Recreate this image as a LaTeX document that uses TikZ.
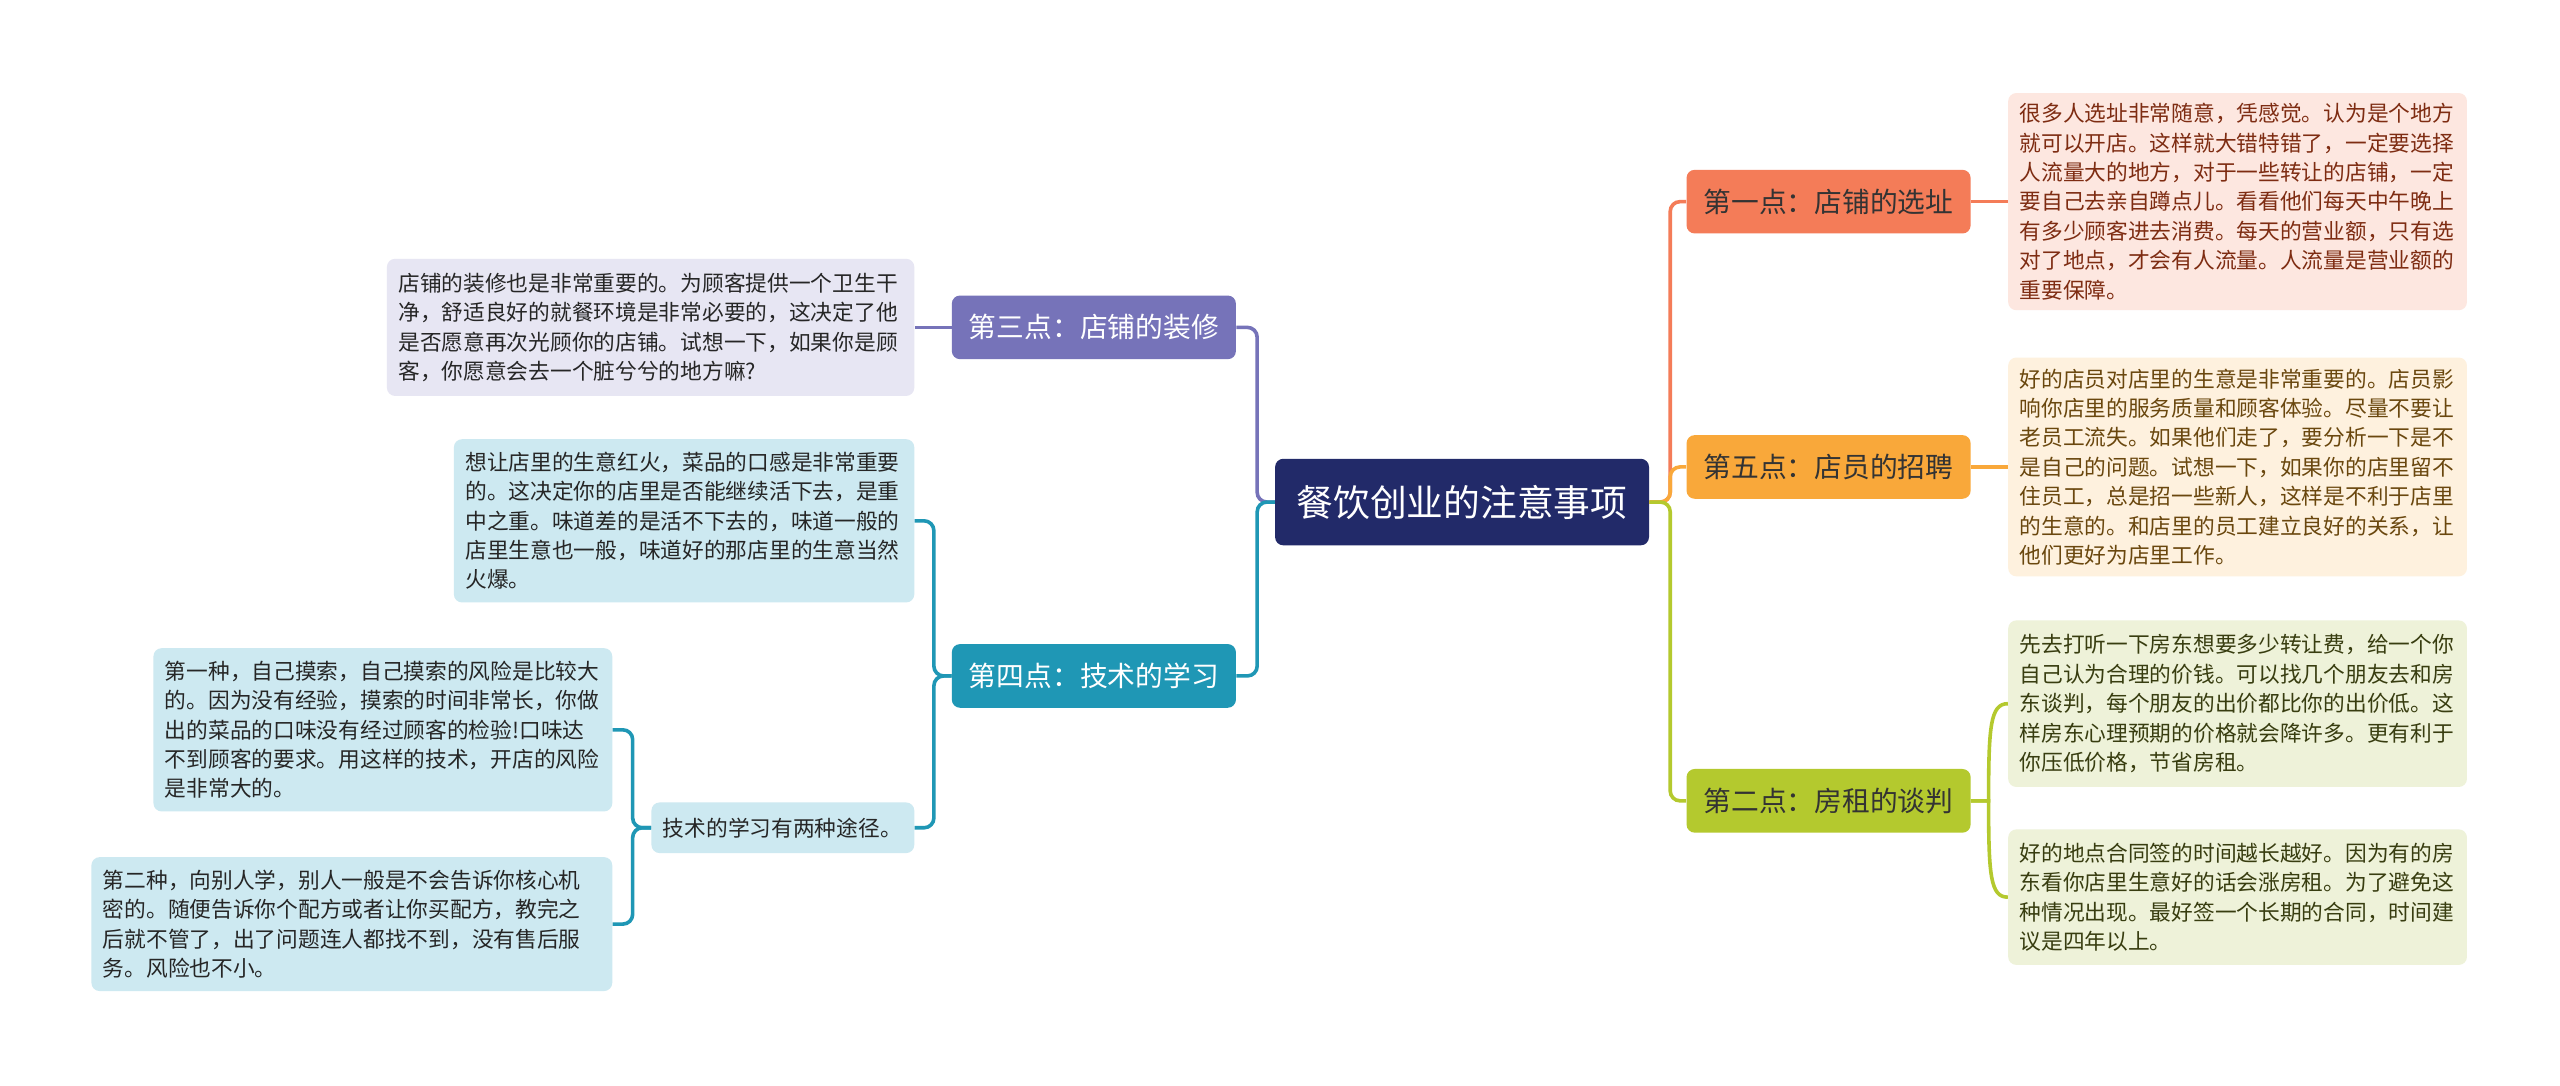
\documentclass[tikz,border=0pt]{standalone}
\usepackage{fontspec}
\setmainfont{Noto Sans CJK SC}
\definecolor{cnavy}{HTML}{222A69}
\definecolor{cpurple}{HTML}{7673B9}
\definecolor{cpurpleL}{HTML}{E7E6F3}
\definecolor{cteal}{HTML}{1F97B5}
\definecolor{ctealL}{HTML}{CDE9F1}
\definecolor{ccoral}{HTML}{F47C58}
\definecolor{ccoralL}{HTML}{FDE7E0}
\definecolor{ccoralT}{HTML}{7E2C12}
\definecolor{corange}{HTML}{F9A83A}
\definecolor{corangeL}{HTML}{FEF1DE}
\definecolor{corangeT}{HTML}{6A470E}
\definecolor{cgreen}{HTML}{B4C92E}
\definecolor{cgreenL}{HTML}{EEF2D9}
\definecolor{cgreenT}{HTML}{383D10}
\tikzset{
  box/.style={rounded corners=5pt, inner sep=0pt, anchor=center},
  rootbox/.style={box, fill=cnavy, text=white, minimum width=229pt, minimum height=53pt, font=\fontsize{22.5}{26}\selectfont},
  branchbox/.style={box, minimum width=174pt, minimum height=39pt, font=\fontsize{17}{20}\selectfont},
  leafbox/.style={box, align=left, font=\fontsize{13.3}{18}\selectfont},
  conn/.style={line width=2.2pt, rounded corners=6pt},
}
\begin{document}
\begin{tikzpicture}[x=1pt,y=-1pt]
\useasboundingbox[fill=white] (0,0) rectangle (1568,665);

% root
\node[rootbox] (root) at (895.5,307.5) {餐饮创业的注意事项};

% left branches
\node[branchbox, fill=cpurple, text=white] (pn) at (670,200.5) {第三点：店铺的装修};
\node[branchbox, fill=cteal, text=white] (tn) at (670,414) {第四点：技术的学习};

\node[leafbox, fill=cpurpleL, text=black!85, minimum width=323pt, minimum height=84pt, text width=309pt] (pl) at (398.5,200.5)
 {店铺的装修也是非常重要的。为顾客提供一个卫生干\\净，舒适良好的就餐环境是非常必要的，这决定了他\\是否愿意再次光顾你的店铺。试想一下，如果你是顾\\客，你愿意会去一个脏兮兮的地方嘛?};

\node[leafbox, fill=ctealL, text=black!85, minimum width=282pt, minimum height=100pt, text width=268pt] (tl1) at (419,319)
 {想让店里的生意红火，菜品的口感是非常重要\\的。这决定你的店里是否能继续活下去，是重\\中之重。味道差的是活不下去的，味道一般的\\店里生意也一般，味道好的那店里的生意当然\\火爆。};

\node[leafbox, fill=ctealL, text=black!85, minimum width=161pt, minimum height=31pt, text width=147pt] (ti) at (479.5,507)
 {技术的学习有两种途径。};

\node[leafbox, fill=ctealL, text=black!85, minimum width=281pt, minimum height=100pt, text width=267pt] (tl2) at (234.5,447)
 {第一种，自己摸索，自己摸索的风险是比较大\\的。因为没有经验，摸索的时间非常长，你做\\出的菜品的口味没有经过顾客的检验!口味达\\不到顾客的要求。用这样的技术，开店的风险\\是非常大的。};

\node[leafbox, fill=ctealL, text=black!85, minimum width=319pt, minimum height=82pt, text width=305pt] (tl3) at (215.5,566)
 {第二种，向别人学，别人一般是不会告诉你核心机\\密的。随便告诉你个配方或者让你买配方，教完之\\后就不管了，出了问题连人都找不到，没有售后服\\务。风险也不小。};

% right branches
\node[branchbox, fill=ccoral, text=black!80] (cn) at (1120,123.5) {第一点：店铺的选址};
\node[branchbox, fill=corange, text=black!80] (on) at (1120,286) {第五点：店员的招聘};
\node[branchbox, fill=cgreen, text=black!80] (gn) at (1120,490.5) {第二点：房租的谈判};

\node[leafbox, fill=ccoralL, text=ccoralT, minimum width=281pt, minimum height=133pt, text width=267pt] (cl) at (1370.5,123.5)
 {很多人选址非常随意，凭感觉。认为是个地方\\就可以开店。这样就大错特错了，一定要选择\\人流量大的地方，对于一些转让的店铺，一定\\要自己去亲自蹲点儿。看看他们每天中午晚上\\有多少顾客进去消费。每天的营业额，只有选\\对了地点，才会有人流量。人流量是营业额的\\重要保障。};

\node[leafbox, fill=corangeL, text=corangeT, minimum width=281pt, minimum height=134pt, text width=267pt] (ol) at (1370.5,286)
 {好的店员对店里的生意是非常重要的。店员影\\响你店里的服务质量和顾客体验。尽量不要让\\老员工流失。如果他们走了，要分析一下是不\\是自己的问题。试想一下，如果你的店里留不\\住员工，总是招一些新人，这样是不利于店里\\的生意的。和店里的员工建立良好的关系，让\\他们更好为店里工作。};

\node[leafbox, fill=cgreenL, text=cgreenT, minimum width=281pt, minimum height=102pt, text width=267pt] (gl1) at (1370.5,431)
 {先去打听一下房东想要多少转让费，给一个你\\自己认为合理的价钱。可以找几个朋友去和房\\东谈判，每个朋友的出价都比你的出价低。这\\样房东心理预期的价格就会降许多。更有利于\\你压低价格，节省房租。};

\node[leafbox, fill=cgreenL, text=cgreenT, minimum width=281pt, minimum height=83pt, text width=267pt] (gl2) at (1370.5,549.5)
 {好的地点合同签的时间越长越好。因为有的房\\东看你店里生意好的话会涨房租。为了避免这\\种情况出现。最好签一个长期的合同，时间建\\议是四年以上。};

% connectors
\coordinate (lj) at (770,307.5);
\coordinate (rj) at (1023,307.5);
\coordinate (tj) at (572,414);
\coordinate (ij) at (387.5,507);

\draw[conn, cpurple] (root.west) -- (lj) |- (pn.east);
\draw[conn, cteal] (root.west) -- (lj) |- (tn.east);
\draw[conn, cpurple] (pn.west) -- (pl.east);
\draw[conn, cteal] (tn.west) -- (tj) |- (tl1.east);
\draw[conn, cteal] (tn.west) -- (tj) |- (ti.east);
\draw[conn, cteal] (ti.west) -- (ij) |- (tl2.east);
\draw[conn, cteal] (ti.west) -- (ij) |- (tl3.east);

\draw[conn, ccoral] (root.east) -- (rj) |- (cn.west);
\draw[conn, corange] (root.east) -- (rj) |- (on.west);
\draw[conn, cgreen] (root.east) -- (rj) |- (gn.west);
\draw[conn, ccoral] (cn.east) -- (cl.west);
\draw[conn, corange] (on.east) -- (ol.west);

\coordinate (gj) at (1218,490.5);
\draw[line width=2.2pt, cgreen] (gn.east) -- (gj) .. controls (1218,445) and (1219,431) .. (gl1.west);
\draw[line width=2.2pt, cgreen] (gn.east) -- (gj) .. controls (1218,536) and (1219,549.5) .. (gl2.west);
\end{tikzpicture}
\end{document}
